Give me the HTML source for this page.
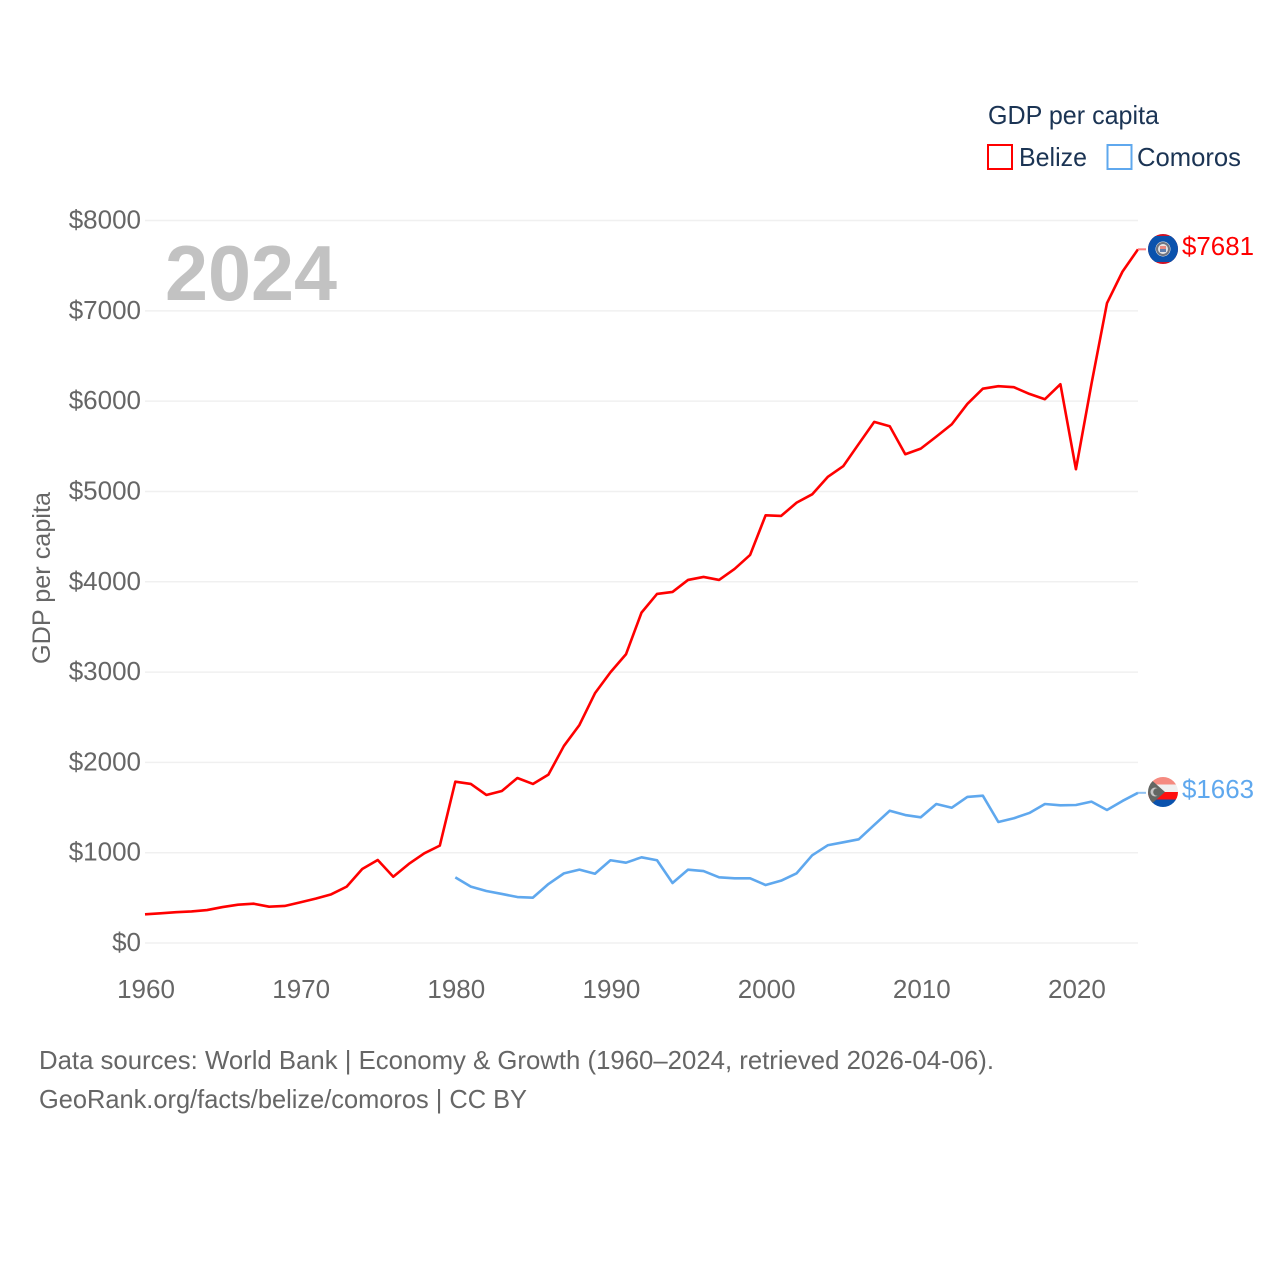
<!DOCTYPE html>
<html lang="en">
<head>
<meta charset="utf-8">
<title>GDP per capita: Belize and Comoros</title>
<style>
  html, body { margin: 0; padding: 0; background: #fff; }
  body { width: 1280px; height: 1280px; overflow: hidden; }
  svg { display: block; font-family: "Liberation Sans", sans-serif; }
</style>
</head>
<body>
<svg id="chart" xmlns="http://www.w3.org/2000/svg" width="1280" height="1280" viewBox="0 0 1280 1280">
  <defs>
    <clipPath id="clip-belize"><circle cx="1163" cy="249" r="15"></circle></clipPath>
    <clipPath id="clip-comoros"><circle cx="1163" cy="792" r="15"></circle></clipPath>
  </defs>
  <rect x="0" y="0" width="1280" height="1280" fill="#fff"></rect>
  <g id="grid"></g>
  <g id="y-ticks"></g>
  <g id="x-ticks"></g>
  <text x="165" y="300" font-size="78" font-weight="700" fill="#c2c2c2" textLength="172" lengthAdjust="spacingAndGlyphs">2024</text>
  <text transform="translate(50,578) rotate(-90)" text-anchor="middle" font-size="25" fill="#666" textLength="172" lengthAdjust="spacingAndGlyphs">GDP per capita</text>
  <g id="series"></g>

  <g>
    <text x="988" y="124" font-size="26" fill="#1b3454" textLength="171" lengthAdjust="spacingAndGlyphs">GDP per capita</text>
    <rect x="988" y="145" width="24" height="24" fill="none" stroke="#ff0000" stroke-width="2"></rect>
    <text x="1019" y="166" font-size="26" fill="#1b3454" textLength="68" lengthAdjust="spacingAndGlyphs">Belize</text>
    <rect x="1107.5" y="145" width="24" height="24" fill="none" stroke="#5fa8ee" stroke-width="2"></rect>
    <text x="1137" y="166" font-size="26" fill="#1b3454" textLength="104" lengthAdjust="spacingAndGlyphs">Comoros</text>
  </g>

  <g clip-path="url(#clip-belize)">
    <rect x="1148" y="234" width="30" height="30" fill="#ce1126"></rect>
    <rect x="1148" y="236" width="30" height="26" fill="#0a52ad"></rect>
    <circle cx="1163" cy="249" r="7.5" fill="#e6e6e6"></circle>
    <circle cx="1163" cy="249" r="6" fill="none" stroke="#6f7480" stroke-width="2"></circle>
    <rect x="1160" y="246" width="6" height="3" fill="#e98a80"></rect>
    <rect x="1160" y="249" width="6" height="3" fill="#5d7fb0"></rect>
  </g>
  <text id="label-belize" x="1182" y="255" font-size="26" fill="#ff0000" textLength="72" lengthAdjust="spacingAndGlyphs">$7681</text>

  <g clip-path="url(#clip-comoros)">
    <rect x="1148" y="777" width="30" height="8" fill="#f58a80"></rect>
    <rect x="1148" y="784.5" width="30" height="7.5" fill="#f0f0f0"></rect>
    <rect x="1148" y="792" width="30" height="7.5" fill="#ff0f0f"></rect>
    <rect x="1148" y="799.5" width="30" height="7.5" fill="#0a52ad"></rect>
    <polygon points="1148,777 1148,807 1165,792" fill="#636663"></polygon>
    <circle cx="1155" cy="792" r="4.5" fill="#c4c4c4"></circle>
    <circle cx="1157" cy="792" r="3.8" fill="#636663"></circle>
  </g>
  <text id="label-comoros" x="1182" y="798" font-size="26" fill="#5fa8ee" textLength="72" lengthAdjust="spacingAndGlyphs">$1663</text>

  <text x="39" y="1069" font-size="26" fill="#666" textLength="955" lengthAdjust="spacingAndGlyphs">Data sources: World Bank | Economy &amp; Growth (1960–2024, retrieved 2026-04-06).</text>
  <text x="39" y="1108" font-size="26" fill="#666" textLength="488" lengthAdjust="spacingAndGlyphs">GeoRank.org/facts/belize/comoros | CC BY</text>
</svg>
<script>
const years = [1960,1961,1962,1963,1964,1965,1966,1967,1968,1969,1970,1971,1972,1973,1974,1975,1976,1977,1978,1979,1980,1981,1982,1983,1984,1985,1986,1987,1988,1989,1990,1991,1992,1993,1994,1995,1996,1997,1998,1999,2000,2001,2002,2003,2004,2005,2006,2007,2008,2009,2010,2011,2012,2013,2014,2015,2016,2017,2018,2019,2020,2021,2022,2023,2024];
const belizeValues = [318,329,341,349,365,398,424,435,402,410,450,491,539,624,819,919,734,875,993,1078,1786,1761,1639,1683,1827,1761,1864,2182,2414,2765,2998,3197,3658,3865,3887,4020,4053,4020,4142,4297,4736,4729,4876,4968,5160,5279,5526,5770,5722,5412,5474,5607,5744,5969,6138,6165,6154,6080,6021,6187,5246,6190,7084,7434,7681];
const comorosValues = [null,null,null,null,null,null,null,null,null,null,null,null,null,null,null,null,null,null,null,null,727,624,576,543,509,502,653,771,812,767,916,889,949,916,664,812,797,727,716,716,642,690,772,971,1082,1115,1148,1307,1465,1417,1392,1539,1498,1617,1631,1340,1381,1440,1539,1525,1528,1565,1473,1573,1663];
const yTickValues = [0,1000,2000,3000,4000,5000,6000,7000,8000];
const yTickLabels = ["$0","$1000","$2000","$3000","$4000","$5000","$6000","$7000","$8000"];
const xTickValues = [1960,1970,1980,1990,2000,2010,2020];

const SVG_NS = "http://www.w3.org/2000/svg";
const xScale = function (year) { return 145 + (year - 1960) * (1138 - 145) / 64; };
const yScale = function (value) { return 943 - value * (943 - 220.5) / 8000; };

const gridGroup = document.getElementById("grid");
const yTickGroup = document.getElementById("y-ticks");
const xTickGroup = document.getElementById("x-ticks");
const seriesGroup = document.getElementById("series");

yTickValues.forEach(function (value, i) {
  const line = document.createElementNS(SVG_NS, "line");
  
  
  line.setAttribute("x1", xScale(1960));
  line.setAttribute("x2", xScale(2024));
  line.setAttribute("y1", yScale(value));
  line.setAttribute("y2", yScale(value));
  line.setAttribute("stroke", "#f0f0f0");
  line.setAttribute("stroke-width", "1.5");
  gridGroup.appendChild(line);

  const label = document.createElementNS(SVG_NS, "text");
  
  
  label.setAttribute("x", 141);
  label.setAttribute("y", yScale(value) + 8);
  label.setAttribute("text-anchor", "end");
  label.setAttribute("font-size", "26");
  label.setAttribute("fill", "#666");
  label.textContent = yTickLabels[i];
  yTickGroup.appendChild(label);
});

xTickValues.forEach(function (year) {
  const label = document.createElementNS(SVG_NS, "text");
  
  
  label.setAttribute("x", xScale(year) + 1);
  label.setAttribute("y", 998);
  label.setAttribute("text-anchor", "middle");
  label.setAttribute("font-size", "26");
  label.setAttribute("fill", "#666");
  label.textContent = String(year);
  xTickGroup.appendChild(label);
});

function pointsFor(values) {
  const pts = [];
  values.forEach(function (value, i) {
    if (value !== null) {
      pts.push(xScale(years[i]).toFixed(2) + "," + yScale(value).toFixed(2));
    }
  });
  return pts.join(" ");
}

function lastY(values) {
  return yScale(values[values.length - 1]);
}

const belizeLine = document.createElementNS(SVG_NS, "polyline");


belizeLine.setAttribute("points", pointsFor(belizeValues));
belizeLine.setAttribute("fill", "none");
belizeLine.setAttribute("stroke", "#ff0000");
belizeLine.setAttribute("stroke-width", "2.6");
belizeLine.setAttribute("stroke-linejoin", "round");
seriesGroup.appendChild(belizeLine);

const comorosLine = document.createElementNS(SVG_NS, "polyline");


comorosLine.setAttribute("points", pointsFor(comorosValues));
comorosLine.setAttribute("fill", "none");
comorosLine.setAttribute("stroke", "#5fa8ee");
comorosLine.setAttribute("stroke-width", "2.6");
comorosLine.setAttribute("stroke-linejoin", "round");
seriesGroup.appendChild(comorosLine);

const belizeConnector = document.createElementNS(SVG_NS, "line");


belizeConnector.setAttribute("x1", xScale(2024));
belizeConnector.setAttribute("x2", 1146);
belizeConnector.setAttribute("y1", lastY(belizeValues));
belizeConnector.setAttribute("y2", lastY(belizeValues));
belizeConnector.setAttribute("stroke", "#ff7b7b");
belizeConnector.setAttribute("stroke-width", "2");
seriesGroup.appendChild(belizeConnector);

const comorosConnector = document.createElementNS(SVG_NS, "line");


comorosConnector.setAttribute("x1", xScale(2024));
comorosConnector.setAttribute("x2", 1146);
comorosConnector.setAttribute("y1", lastY(comorosValues));
comorosConnector.setAttribute("y2", lastY(comorosValues));
comorosConnector.setAttribute("stroke", "#8fc1f2");
comorosConnector.setAttribute("stroke-width", "2");
seriesGroup.appendChild(comorosConnector);
</script>
</body>
</html>
